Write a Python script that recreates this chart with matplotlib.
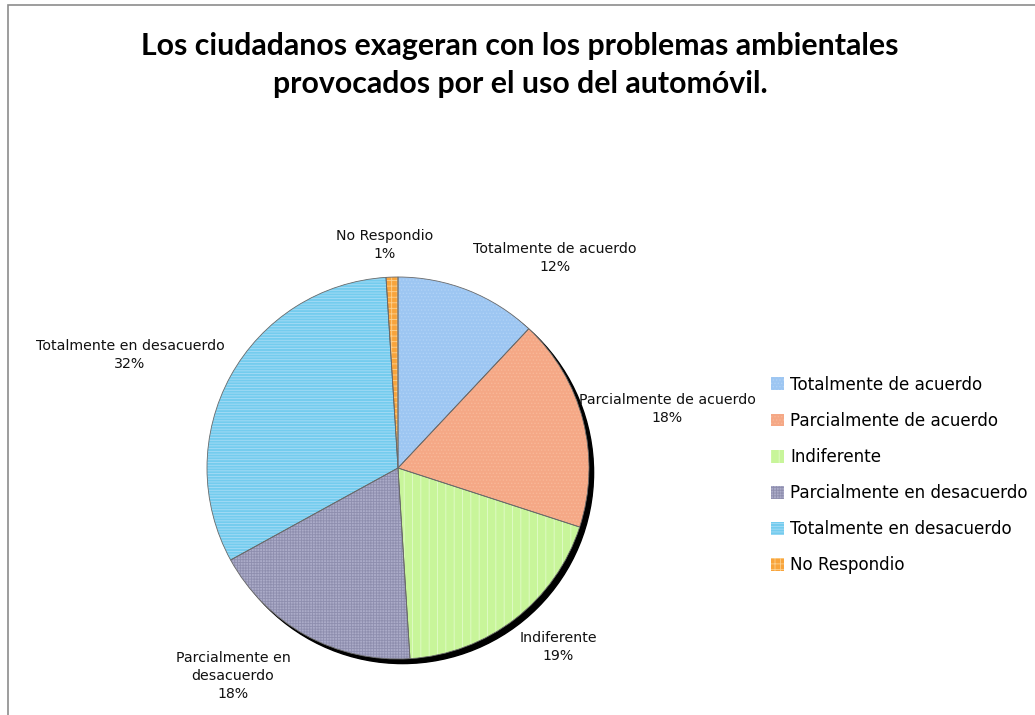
import matplotlib
matplotlib.use('Agg')
import matplotlib.pyplot as plt
from matplotlib.patches import Circle, Rectangle, Patch

categorias = ['Totalmente de acuerdo', 'Parcialmente de acuerdo', 'Indiferente',
              'Parcialmente en desacuerdo', 'Totalmente en desacuerdo', 'No Respondio']
porcentajes = [12, 18, 19, 18, 32, 1]
etiquetas = ['Totalmente de acuerdo\n12%', 'Parcialmente de acuerdo\n18%', 'Indiferente\n19%',
             'Parcialmente en\ndesacuerdo\n18%', 'Totalmente en desacuerdo\n32%', 'No Respondio\n1%']

colores = ['#9DC6F2', '#F5A886', '#C8F59A', '#ABABC8', '#74CCEE', '#F8A43C']
tramas = ['.....', '.....', '||', '++++++', '------', '+++']
color_trama = ['#B0D2F6', '#F8B898', '#E2FBCB', '#8E8EAE', '#A8DCF6', '#FCD08E']

# posicion de las etiquetas en pixeles (x, y desde arriba)
pos_etiq = [(555, 258), (667, 409), (558, 647), (233, 676), (130, 355), (385, 245)]

plt.rcParams['hatch.linewidth'] = 0.6
W, H = 1035, 715
fig = plt.figure(figsize=(W/100, H/100), dpi=100, facecolor='w')

# marco del grafico
fig.patches.append(Rectangle((8/W, -0.1), 1.2, (H-5)/H + 0.1, transform=fig.transFigure,
                             fill=False, edgecolor='#8c8c8c', linewidth=1.2))

cx, cy, R = 398, 468, 191
lim = 1.25
ax = fig.add_axes([(cx - lim*R)/W, (H - cy - lim*R)/H, 2*lim*R/W, 2*lim*R/H])
ax.set_xlim(-lim, lim)
ax.set_ylim(-lim, lim)
ax.set_aspect('equal')
ax.axis('off')

# sombra
ax.add_patch(Circle((0.024, -0.024), 1.0, color='black', zorder=0))

wedges, _ = ax.pie(porcentajes, startangle=90, counterclock=False, radius=1.0,
                   colors=colores, wedgeprops=dict(linewidth=0))
for w, t, hc in zip(wedges, tramas, color_trama):
    w.set_hatch(t)
    w.set_edgecolor(hc)
    w.set_zorder(1)
bordes, _ = ax.pie(porcentajes, startangle=90, counterclock=False, radius=1.0,
                   wedgeprops=dict(fill=False, edgecolor='#6a6a6a', linewidth=0.6))
for b in bordes:
    b.set_zorder(2)
ax.set_xlim(-lim, lim)
ax.set_ylim(-lim, lim)

for txt, (px, py) in zip(etiquetas, pos_etiq):
    ax.text((px - cx)/R, (cy - py)/R, txt, ha='center', va='center', fontsize=10.2,
            linespacing=1.4, color='#111111', clip_on=False)

fig.text(520/W, 1 - 65/H, 'Los ciudadanos exageran con los problemas ambientales\nprovocados por el uso del automóvil.',
         ha='center', va='center', fontsize=21.8, fontweight='bold', family='Lato', linespacing=1.47)

handles = [Patch(facecolor=c, edgecolor=hc, hatch=t, linewidth=0)
           for c, hc, t in zip(colores, color_trama, tramas)]
fig.legend(handles, categorias, loc='upper left', bbox_to_anchor=(764/W, 1 - 369/H),
           frameon=False, fontsize=12.1, handlelength=0.8, handleheight=0.8,
           handletextpad=0.35, labelspacing=1.08, borderaxespad=0)

fig.savefig('out.png', dpi=100, facecolor='w')
